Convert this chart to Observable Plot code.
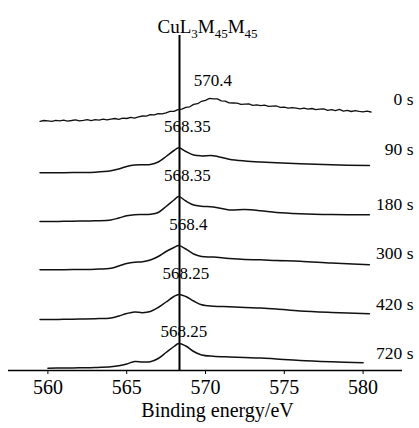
<!DOCTYPE html>
<html><head><meta charset="utf-8">
<script src="https://cdn.jsdelivr.net/npm/d3@7"></script>
<script src="https://cdn.jsdelivr.net/npm/@observablehq/plot@0.6"></script>
<style>body{margin:0;background:#fff}</style>
</head><body><div id="chart"></div>
<script>
const titleText = "CuL3M45M45";
const titleParts = [["CuL", false], ["3", true], ["M", false], ["45", true], ["M", false], ["45", true]];
const xLabel = "Binding energy/eV";
const seriesNames = ["0 s", "90 s", "180 s", "300 s", "420 s", "720 s"];
const offsets = [254, 204, 149, 100, 49, 0];
const peakLabels = ["570.4", "568.35", "568.35", "568.4", "568.25", "568.25"];
const refLineEnergy = 568.35;
const xTicks = [560, 565, 570, 575, 580];

const energy0 = [559.5,559.75,560,560.25,560.5,560.75,561,561.25,561.5,561.75,562,562.25,562.5,562.75,563,563.25,563.5,563.75,564,564.25,564.5,564.75,565,565.25,565.5,565.75,566,566.25,566.5,566.75,567,567.25,567.5,567.75,568,568.25,568.5,568.75,569,569.25,569.5,569.75,570,570.25,570.5,570.75,571,571.25,571.5,571.75,572,572.25,572.5,572.75,573,573.25,573.5,573.75,574,574.25,574.5,574.75,575,575.25,575.5,575.75,576,576.25,576.5,576.75,577,577.25,577.5,577.75,578,578.25,578.5,578.75,579,579.25,579.5,579.75,580,580.25,580.5];
const int0 = [3.2,4.0,3.65,3.15,4.2,3.55,4.4,3.45,4.0,4.7,3.6,4.2,4.9,3.85,4.8,4.45,5.4,4.55,5.3,6.0,5.2,6.3,6.0,7.05,6.4,7.7,8.5,8.4,9.9,9.6,10.9,10.6,11.7,13.1,13.2,14.9,15.3,17.2,17.7,20.1,20.8,23.2,24.2,26.1,25.7,25.7,23.7,23.4,21.6,21.5,21.4,20.1,20.4,20.6,19.2,19.7,18.8,19.3,18.1,18.3,18.5,17.1,17.3,16.3,16.9,16.3,15.6,16.4,15.4,16.0,14.9,15.3,15.6,14.2,14.8,13.9,15.1,13.4,14.1,13.0,13.9,13.2,12.6,13.3,12.5];

const energy = [559.5,560,561,562,563,564,564.5,565,565.5,566,566.5,567,567.5,568,568.3,568.75,569.25,569.75,570.5,571.5,572.5,573.5,574.5,576,578,580.4];
const int90  = [1.7,1.7,1.8,2,2.3,3.7,5.5,8,9.5,9.8,10,12.5,18,24,26.7,23,19.5,18.6,18.8,15.2,13.5,12.5,11.8,10.7,9.7,9];
const int180 = [8,8,8.2,8.4,8.7,9.5,11.5,13.7,14.8,15,15.2,17,23,29.5,33,28.5,24.5,23.3,22.5,19.6,19.9,18.7,17,15.8,15,14.7];
const int300 = [8.7,8.7,8.8,9,9.3,10.2,12.5,15,16.3,16.7,18.5,22,27,31,33,29.5,24.5,22,21.5,20,19,18.7,18,17.3,15.5,13.7];
const int420 = [10,10,10.2,10.5,10.8,11.5,13.5,16,17.5,16.8,18,22,27.5,33,35,33,28.5,24.7,23.3,22.7,22,21.5,20.5,18.5,17,15.7];
const energy720 = [560,561,562,563,564,564.5,565,565.5,566,566.5,567,567.5,568,568.3,568.75,569.25,569.75,570.5,571.5,572.5,573.5,574.5,576,578,580];
const int720 = [10.3,10.5,10.7,11,11.7,12.7,14.5,17,16.5,16.8,20,26,32,35,32.5,27,23.5,22.2,21.5,21,20.5,19.5,18,16.7,15.7];

const energies = [energy0, energy, energy, energy, energy, energy720];
const intensities = [int0, int90, int180, int300, int420, int720];

const rows = seriesNames.flatMap((s, i) => energies[i].map((e, j) => ({series: s, energy: e, signal: offsets[i] + intensities[i][j]})));
const peaks = seriesNames.map((s, i) => {
  const j = d3.maxIndex(intensities[i]);
  return {series: s, energy: +peakLabels[i], signal: offsets[i] + intensities[i][j], label: peakLabels[i]};
});
const sideLabels = seriesNames.map((s, i) => ({series: s, signal: offsets[i] + 25}));
const yMin = 8, yMax = 343;

const svg = Plot.plot({
  width: 419, height: 428,
  marginLeft: 8, marginRight: 17, marginTop: 35, marginBottom: 58,
  x: {domain: [557.5, 582.5]},
  y: {domain: [yMin, yMax], axis: null},
  style: {fontFamily: "'Liberation Serif', serif", fontSize: "16px", color: "#000", background: "#fff", overflow: "visible"},
  marks: [
    Plot.ruleY([yMin], {stroke: "#000", strokeWidth: 1.3}),
    Plot.axisX({ticks: xTicks, tickSize: 4, label: null, tickFormat: () => ""}),
    Plot.text(xTicks, {x: d => d, text: d => String(d), frameAnchor: "bottom", lineAnchor: "top", dy: 9, fontSize: 20}),
    Plot.ruleX([refLineEnergy], {stroke: "#000", strokeWidth: 2}),
    Plot.line(rows, {filter: d => d.series === "0 s", x: "energy", y: "signal", z: "series", stroke: "#111", strokeWidth: 1.3}),
    Plot.line(rows, {filter: d => d.series !== "0 s", x: "energy", y: "signal", z: "series", stroke: "#111", strokeWidth: 1.5, curve: "catmull-rom"}),
    Plot.text(peaks, {filter: d => d.series === "0 s", x: "energy", y: "signal", text: "label", dx: 1, dy: -18, fontSize: 17}),
    Plot.text(peaks, {filter: d => d.series === "720 s", x: "energy", y: "signal", text: "label", dx: 6, dy: -12, fontSize: 17}),
    Plot.text(peaks, {filter: d => d.series !== "0 s" && d.series !== "720 s", x: "energy", y: "signal", text: "label", dx: 8, dy: -21, fontSize: 17}),
    Plot.text(sideLabels, {y: "signal", text: "series", frameAnchor: "right", textAnchor: "end", dx: 11, fontSize: 17.5}),
    Plot.text([xLabel], {frameAnchor: "bottom", dx: 12, dy: 46, lineAnchor: "bottom", fontSize: 20}),
    Plot.text([titleText], {frameAnchor: "top", dx: 2, dy: -3, lineAnchor: "bottom", fontSize: 19})
  ]
});

const t = d3.select(svg).selectAll("text").filter(function() { return this.textContent === titleText; });
t.text(null);
let lowered = false;
titleParts.forEach(([s, sub]) => {
  const ts = t.append("tspan").text(s);
  if (sub) { ts.attr("font-size", 13); if (!lowered) { ts.attr("dy", 5); lowered = true; } }
  else if (lowered) { ts.attr("dy", -5); lowered = false; }
});

document.getElementById("chart").appendChild(svg);
</script></body></html>
